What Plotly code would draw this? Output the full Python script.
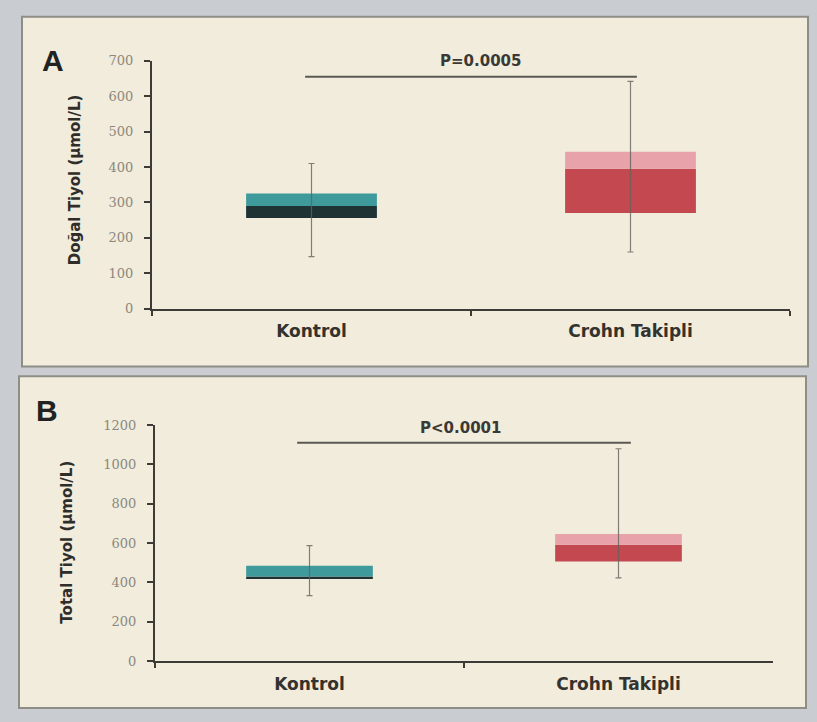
import plotly.graph_objects as go

# --- data -----------------------------------------------------------------
categories = ["Kontrol", "Crohn Takipli"]

# Doğal tiyol (µmol/L): min, Q1, median, Q3, max
dogal_min = [147, 160]
dogal_q1 = [256, 270]
dogal_median = [290, 395]
dogal_q3 = [325, 443]
dogal_max = [410, 642]

# Total tiyol (µmol/L)
total_min = [333, 423]
total_q1 = [418, 507]
total_median = [430, 592]
total_q3 = [485, 647]
total_max = [587, 1080]

p_labels = ["P=0.0005", "P<0.0001"]
bracket_levels = [655, 1110]

dogal_ticks = [0, 100, 200, 300, 400, 500, 600, 700]
total_ticks = [0, 200, 400, 600, 800, 1000, 1200]

# --- styling --------------------------------------------------------------
lower_colors = ["#1f3234", "#c34850"]
upper_colors = ["#3f9a9b", "#e8a2aa"]
axis_color = "#3c3b36"
panel_fill = "#f1ecdc"
panel_edge = "#8e8d86"
tick_font = dict(family="DejaVu Serif", size=13, color="#8c887d")
label_font = dict(family="DejaVu Sans", size=17, color="#33322e")

fig = go.Figure()


def add_panel(xa, ya, lo, q1, med, q3, hi):
    # whiskers
    fig.add_trace(go.Scatter(
        x=categories, y=med, mode="markers",
        marker=dict(size=0.1, color="rgba(0,0,0,0)"),
        error_y=dict(type="data", symmetric=False,
                     array=[h - m for h, m in zip(hi, med)],
                     arrayminus=[m - l for m, l in zip(med, lo)],
                     color="rgba(100,98,92,0.8)", thickness=1.2, width=3),
        xaxis=xa, yaxis=ya, showlegend=False, hoverinfo="skip"))
    # lower half of the box (Q1 -> median)
    fig.add_trace(go.Bar(
        x=categories, y=[m - a for m, a in zip(med, q1)], base=q1,
        width=0.41, marker=dict(color=lower_colors, line=dict(width=0)),
        xaxis=xa, yaxis=ya, showlegend=False))
    # upper half of the box (median -> Q3)
    fig.add_trace(go.Bar(
        x=categories, y=[b - m for b, m in zip(q3, med)], base=med,
        width=0.41, marker=dict(color=upper_colors, line=dict(width=0)),
        xaxis=xa, yaxis=ya, showlegend=False))


add_panel("x", "y", dogal_min, dogal_q1, dogal_median, dogal_q3, dogal_max)
add_panel("x2", "y2", total_min, total_q1, total_median, total_q3, total_max)

W, H = 817, 722


def px(v):
    return v / W


def py(v):
    return 1 - v / H


# panel frames
shapes = [
    dict(type="rect", xref="paper", yref="paper", layer="below",
         x0=px(22), x1=px(808), y0=py(367), y1=py(10),
         fillcolor=panel_fill, line=dict(color=panel_edge, width=2)),
    dict(type="rect", xref="paper", yref="paper", layer="below",
         x0=px(19), x1=px(806), y0=py(716), y1=py(377),
         fillcolor=panel_fill, line=dict(color=panel_edge, width=2)),
]
# significance brackets
for xr, yr, lvl, ends in [("x", "y", bracket_levels[0], (-0.02, 1.02)),
                          ("x2", "y2", bracket_levels[1], (-0.04, 1.04))]:
    shapes.append(dict(type="line", xref=xr, yref=yr, x0=ends[0], x1=ends[1],
                       y0=lvl, y1=lvl, line=dict(color="#5a5954", width=2)))


def note(text, x, y, font, **kw):
    d = dict(text=text, xref="paper", yref="paper", x=x, y=y, showarrow=False,
             xanchor="center", yanchor="middle", font=font)
    d.update(kw)
    return d


letter_font = dict(family="Liberation Sans", size=30, color="#222")
title_font = dict(family="DejaVu Sans", size=15, color="#2e2d2a")
p_font = dict(family="DejaVu Sans", size=15, color="#3a3935")

annotations = [
    note("<b>A</b>", px(53), py(55), letter_font),
    note("<b>B</b>", px(47), py(412), letter_font),
    note("<b>Doğal Tiyol (µmol/L)</b>", px(75), py(177), title_font, textangle=-90),
    note("<b>Total Tiyol (µmol/L)</b>", px(67), py(547), title_font, textangle=-90),
    dict(text="<b>" + p_labels[0] + "</b>", xref="x", yref="y",
         x=0.53, y=bracket_levels[0], yanchor="bottom", yshift=5, showarrow=False,
         font=p_font),
    dict(text="<b>" + p_labels[1] + "</b>", xref="x2", yref="y2",
         x=0.49, y=bracket_levels[1], yanchor="bottom", yshift=4, showarrow=False,
         font=p_font),
]

xcommon = dict(type="category", range=[-0.5, 1.5], showline=True, linecolor=axis_color,
               linewidth=2, ticks="outside", tickson="boundaries", ticklen=5,
               tickwidth=2, tickcolor=axis_color, showgrid=False, zeroline=False,
               tickvals=categories, ticktext=["<b>" + c + "</b>" for c in categories],
               tickfont=label_font, ticklabelstandoff=6, fixedrange=True)
ycommon = dict(showline=True, linecolor=axis_color, linewidth=2, ticks="outside",
               ticklen=6, tickwidth=2, tickcolor=axis_color, showgrid=False,
               zeroline=False, tickfont=tick_font, ticklabelstandoff=8, fixedrange=True)

fig.update_layout(
    width=W, height=H,
    margin=dict(l=0, r=0, t=0, b=0),
    paper_bgcolor="#c9cdd2",
    plot_bgcolor="rgba(0,0,0,0)",
    barmode="overlay",
    showlegend=False,
    shapes=shapes,
    annotations=annotations,
    xaxis=dict(domain=[px(152), px(790)], anchor="y", **xcommon),
    yaxis=dict(domain=[py(308), py(55)], anchor="x", range=[0, 700],
               tickvals=dogal_ticks, ticktext=[str(t) for t in dogal_ticks], **ycommon),
    xaxis2=dict(domain=[px(155), px(773)], anchor="y2", **xcommon),
    yaxis2=dict(domain=[py(668), py(427)], anchor="x2", range=[0, 1200],
                tickvals=total_ticks, ticktext=[str(t) for t in total_ticks], **ycommon),
)

fig.write_html("out.html")
